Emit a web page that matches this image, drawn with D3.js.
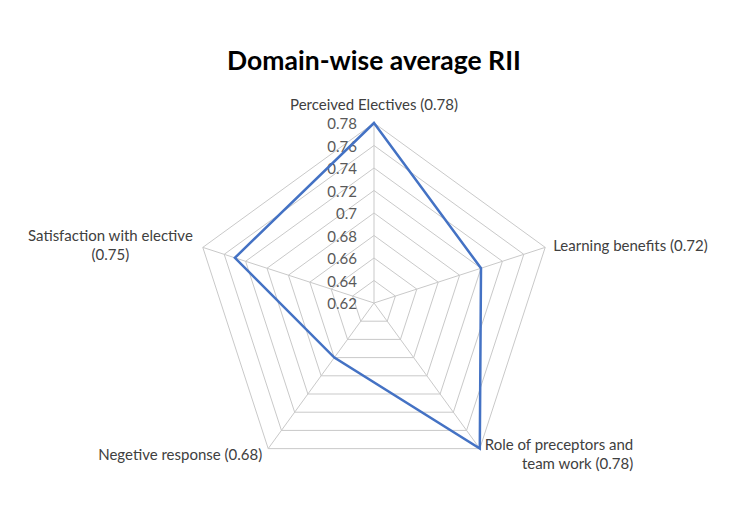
<!DOCTYPE html>
<html>
<head>
<meta charset="utf-8">
<script src="https://cdn.jsdelivr.net/npm/d3@7"></script>
<style>
  body { margin: 0; background: #fff; }
  text { font-family: Lato, "Open Sans", sans-serif; }
</style>
</head>
<body>
<div id="radar"></div>
<script>
// datos del grafico
const categorias = ["Perceived Electives", "Learning benefits", "Role of preceptors and team work", "Negetive response", "Satisfaction with elective"]
const valores = [0.78, 0.72, 0.78, 0.68, 0.75]
const etiquetas = [["Perceived Electives (0.78)"], ["Learning benefits (0.72)"], ["Role of preceptors and", "team work (0.78)"], ["Negetive response (0.68)"], ["Satisfaction with elective", "(0.75)"]]
const ticks = [0.62, 0.64, 0.66, 0.68, 0.7, 0.72, 0.74, 0.76, 0.78]
const titulo = "Domain-wise average RII"

const ancho = 750, alto = 508
const cx = 374, cy = 303, rmax = 180

const svg = d3.select("#radar").append("svg")
  .attr("width", ancho).attr("height", alto)

svg.append("text")
  .attr("x", 374).attr("y", 70)
  .attr("text-anchor", "middle")
  .style("font-size", "26.5px").style("font-weight", "bold").style("fill", "#000")
  .text(titulo)

const g = svg.append("g").attr("transform", "translate(" + cx + "," + cy + ")")

const rScale = d3.scaleLinear().domain([0.62, 0.78]).range([0, rmax])
const angScale = d3.scaleLinear().domain([0, categorias.length]).range([0, 2 * Math.PI])

function punto(i, v) {
  const a = angScale(i)
  return [rScale(v) * Math.sin(a), -rScale(v) * Math.cos(a)]
}

// anillos de la grilla
const linea = d3.line().curve(d3.curveLinearClosed)
g.selectAll("path.anillo")
  .data(ticks.slice(1))
  .enter().append("path")
  .attr("class", "anillo")
  .attr("d", t => linea(categorias.map((c, i) => punto(i, t))))
  .style("fill", "none").style("stroke", "#c9c9c9").style("stroke-width", 1)

// ejes radiales
g.selectAll("line.eje")
  .data(categorias)
  .enter().append("line")
  .attr("class", "eje")
  .attr("x1", 0).attr("y1", 0)
  .attr("x2", (d, i) => punto(i, 0.78)[0])
  .attr("y2", (d, i) => punto(i, 0.78)[1])
  .style("stroke", "#c9c9c9").style("stroke-width", 1)

// etiquetas del eje
g.selectAll("text.tick")
  .data(ticks)
  .enter().append("text")
  .attr("class", "tick")
  .attr("x", -17)
  .attr("y", d => -rScale(d) + 1)
  .attr("dy", "0.35em")
  .attr("text-anchor", "end")
  .style("font-size", "15px").style("fill", "#595959")
  .text(d => d3.format("")(d))

// serie
g.append("path")
  .attr("d", linea(valores.map((v, i) => punto(i, v))))
  .style("fill", "none").style("stroke", "#4472C4").style("stroke-width", 2.5)
  .style("stroke-linejoin", "miter")

// etiquetas de categorias
const fs = 15
const colorTxt = "#404040"
categorias.forEach(function(c, i) {
  const p = punto(i, 0.78)
  const lineas = etiquetas[i]
  const t = g.append("text").style("font-size", fs + "px").style("fill", colorTxt)
  lineas.forEach(function(l, j) {
    t.append("tspan").text(l)
  })
  const spans = t.selectAll("tspan").nodes()
  const largo0 = spans[0].getComputedTextLength()
  if (i == 0) {
    t.attr("text-anchor", "middle")
    d3.select(spans[0]).attr("x", p[0]).attr("y", p[1] - 18).attr("dy", "0.35em")
  } else if (i == 1) {
    t.attr("text-anchor", "start")
    d3.select(spans[0]).attr("x", p[0] + 8).attr("y", p[1] - 2).attr("dy", "0.35em")
  } else if (i == 2) {
    t.attr("text-anchor", "end")
    const xf = p[0] + 5 + largo0
    spans.forEach((s, j) => d3.select(s).attr("x", xf).attr("y", p[1] - 4 + j * 19).attr("dy", "0.35em"))
  } else if (i == 3) {
    t.attr("text-anchor", "end")
    d3.select(spans[0]).attr("x", p[0] - 6).attr("y", p[1] + 6).attr("dy", "0.35em")
  } else {
    t.attr("text-anchor", "middle")
    const xm = p[0] - 10 - largo0 / 2
    spans.forEach((s, j) => d3.select(s).attr("x", xm).attr("y", p[1] - 12 + j * 19).attr("dy", "0.35em"))
  }
})
</script>
</body>
</html>
